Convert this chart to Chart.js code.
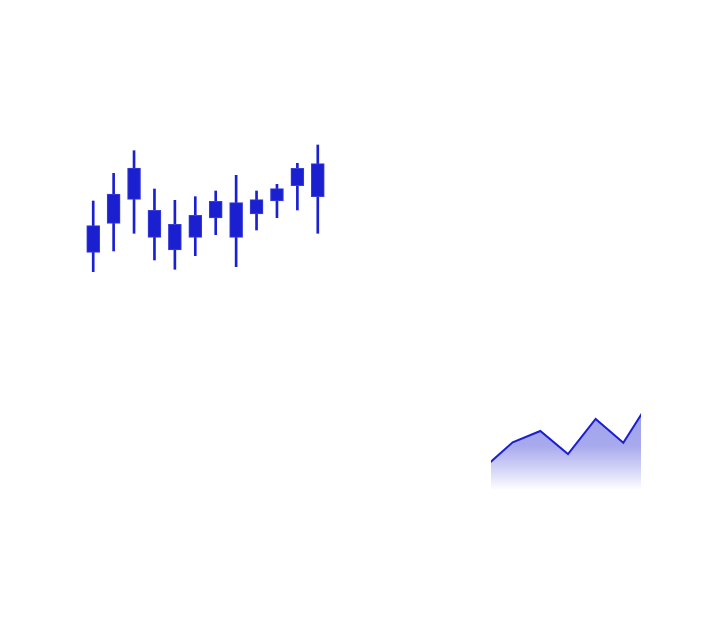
<!DOCTYPE html>
<html>
<head>
<meta charset="utf-8">
<script src="https://cdn.jsdelivr.net/npm/chart.js@4.4.1/dist/chart.umd.min.js"></script>
<style>
  html, body { margin: 0; padding: 0; background: #ffffff; width: 711px; height: 626px; overflow: hidden; }
  #candleWrap { position: absolute; left: 83px; top: 140px; width: 245px; height: 140px; }
  #areaWrap { position: absolute; left: 491px; top: 410px; width: 150px; height: 80px; }
</style>
</head>
<body>
<div id="candleWrap"><canvas id="candle"></canvas></div>
<div id="areaWrap"><canvas id="area"></canvas></div>
<script>
// Candlestick data
const candleLabels = ['1','2','3','4','5','6','7','8','9','10','11','12'];
const candleOpen  = [27.7, 56.7, 80.7, 69.7, 55.7, 42.7, 62.0, 77.3, 66.0, 79.0, 94.3, 83.3];
const candleClose = [54.3, 86.0, 112.0, 42.7, 30.0, 64.7, 78.7, 42.7, 80.3, 91.3, 111.7, 116.3];
const candleHigh  = [79.0, 106.7, 129.3, 91.0, 79.7, 83.3, 89.0, 104.7, 89.0, 95.7, 116.7, 135.0];
const candleLow   = [8.3, 29.0, 46.7, 20.0, 10.7, 24.3, 45.3, 13.3, 50.0, 62.3, 70.0, 46.7];

// Area data (x positions and values; chart window crops the ends)
const areaX = [0, 1, 2, 3, 4, 5, 6];
const areaY = [23, 47.7, 59, 36, 71, 47.3, 90.7];

const blue = '#1a1fd0';

const bodies = candleOpen.map((o, i) => [Math.min(o, candleClose[i]), Math.max(o, candleClose[i])]);
const wicks = candleLow.map((l, i) => [l, candleHigh[i]]);

new Chart(document.getElementById('candle'), {
  type: 'bar',
  data: {
    labels: candleLabels,
    datasets: [
      { data: wicks, backgroundColor: blue, barThickness: 2, grouped: false, order: 2 },
      { data: bodies, backgroundColor: blue, borderColor: '#3a3fd8', borderWidth: 1, borderSkipped: false, barThickness: 13, grouped: false, order: 1 }
    ]
  },
  options: {
    responsive: true,
    maintainAspectRatio: false,
    animation: false,
    layout: { padding: 0 },
    plugins: { legend: { display: false }, tooltip: { enabled: false } },
    scales: {
      x: { display: false },
      y: { display: false, min: 0, max: 140 }
    }
  }
});

new Chart(document.getElementById('area'), {
  type: 'line',
  data: {
    datasets: [{
      data: areaX.map((x, i) => ({ x: x, y: areaY[i] })),
      borderColor: blue,
      borderWidth: 2,
      pointRadius: 0,
      tension: 0,
      fill: 'origin',
      backgroundColor: (ctx) => {
        const ca = ctx.chart.chartArea;
        if (!ca) return 'rgba(26,31,208,0.4)';
        const g = ctx.chart.ctx.createLinearGradient(0, ca.top, 0, ca.bottom);
        g.addColorStop(0, 'rgba(26,31,208,0.42)');
        g.addColorStop(0.45, 'rgba(26,31,208,0.38)');
        g.addColorStop(0.8, 'rgba(26,31,208,0.15)');
        g.addColorStop(1, 'rgba(26,31,208,0)');
        return g;
      }
    }]
  },
  options: {
    responsive: true,
    maintainAspectRatio: false,
    animation: false,
    layout: { padding: 0 },
    plugins: { legend: { display: false }, tooltip: { enabled: false } },
    scales: {
      x: { type: 'linear', display: false, min: 0.217, max: 5.64 },
      y: { display: false, min: 0, max: 80 }
    }
  }
});
</script>
</body>
</html>
